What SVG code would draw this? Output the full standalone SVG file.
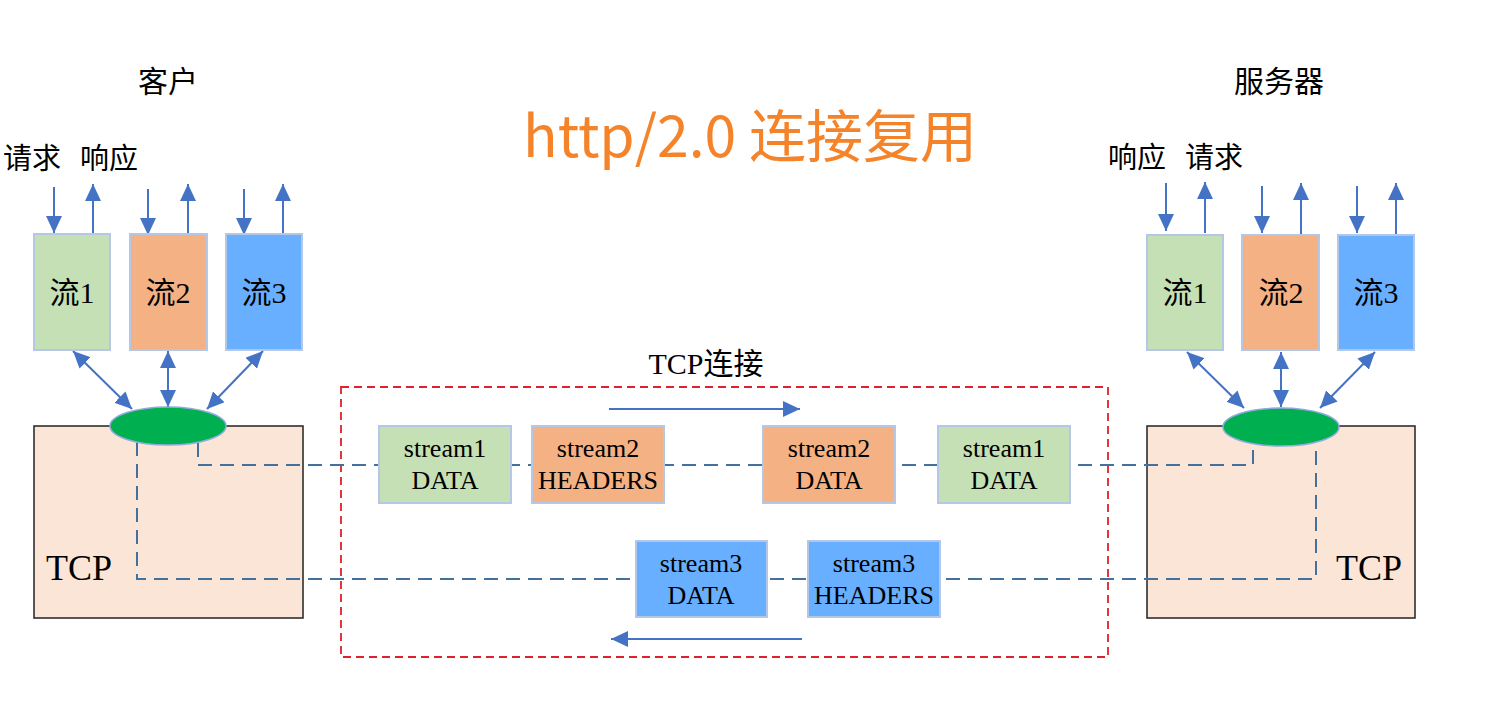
<svg xmlns="http://www.w3.org/2000/svg" width="1492" height="724" viewBox="0 0 1492 724">
<style>
.cjk{font-family:"Liberation Serif","Noto Sans CJK SC",serif;fill:#000}
.sans{font-family:"Noto Sans CJK SC","Noto Sans",sans-serif}
.tcp{fill:#FBE5D6;stroke:#222;stroke-width:1.5}
.ell{fill:#00B050;stroke:#8FAADC;stroke-width:1.5}
.g{fill:#C5E0B4}
.o{fill:#F4B183}
.b{fill:#69AFFF}
.box{stroke:#B4C7E7;stroke-width:2}
.arr{stroke:#4472C4;stroke-width:2;fill:none}
.dash{stroke:#41719C;stroke-width:2;fill:none;stroke-dasharray:14 8}
.st{font-family:"Liberation Serif",serif;font-size:26px;text-anchor:middle;fill:#000}
.fl{font-family:"Liberation Serif","Noto Sans CJK SC",serif;font-size:30px;text-anchor:middle;fill:#000}
</style>
<defs>
<marker id="ah" markerUnits="userSpaceOnUse" markerWidth="20" markerHeight="18" refX="17" refY="8" orient="auto-start-reverse">
<path d="M0,0 L17,8 L0,16 z" fill="#4472C4"/>
</marker>
</defs>
<rect width="1492" height="724" fill="#fff"/>

<text id="title" class="sans" x="750" y="157" font-size="57" text-anchor="middle" fill="#F5832A">http/2.0 连接复用</text>
<text id="client-label" class="sans" x="168" y="92" font-size="30" text-anchor="middle" fill="#000">客户</text>
<text id="server-label" class="sans" x="1279" y="92" font-size="30" text-anchor="middle" fill="#000">服务器</text>
<text class="cjk" x="3" y="169" font-size="29">请求</text>
<text class="cjk" x="80" y="169" font-size="29">响应</text>
<text class="cjk" x="1108" y="168" font-size="29">响应</text>
<text class="cjk" x="1185" y="168" font-size="29">请求</text>

<g id="client-tcp"><rect class="tcp" x="34" y="426" width="269" height="192"/><text x="46" y="580" font-family="Liberation Serif,serif" font-size="36">TCP</text></g>
<g id="server-tcp"><rect class="tcp" x="1147" y="426" width="268" height="192"/><text x="1336" y="580" font-family="Liberation Serif,serif" font-size="36">TCP</text></g>

<g id="tcp-connection">
<rect x="341" y="387" width="767" height="270" fill="none" stroke="#E0202A" stroke-width="1.8" stroke-dasharray="8 5"/>
<text class="cjk" x="706" y="374" font-size="30" text-anchor="middle">TCP连接</text>
</g>

<g id="connectors">
<path class="dash" d="M198,443 V465 H1253 V443"/>
<path class="dash" d="M137,442 V579 H1316 V443"/>
<line class="arr" x1="54" y1="187" x2="54" y2="233" marker-end="url(#ah)"/>
<line class="arr" x1="93" y1="235" x2="93" y2="184" marker-end="url(#ah)"/>
<line class="arr" x1="148" y1="189" x2="148" y2="235" marker-end="url(#ah)"/>
<line class="arr" x1="188" y1="238" x2="188" y2="184" marker-end="url(#ah)"/>
<line class="arr" x1="244" y1="189" x2="244" y2="235" marker-end="url(#ah)"/>
<line class="arr" x1="283" y1="237" x2="283" y2="184" marker-end="url(#ah)"/>
<line class="arr" x1="1166" y1="183" x2="1166" y2="231" marker-end="url(#ah)"/>
<line class="arr" x1="1205" y1="233" x2="1205" y2="182" marker-end="url(#ah)"/>
<line class="arr" x1="1262" y1="186" x2="1262" y2="233" marker-end="url(#ah)"/>
<line class="arr" x1="1301" y1="235" x2="1301" y2="183" marker-end="url(#ah)"/>
<line class="arr" x1="1357" y1="186" x2="1357" y2="233" marker-end="url(#ah)"/>
<line class="arr" x1="1396" y1="235" x2="1396" y2="183" marker-end="url(#ah)"/>
<line class="arr" x1="73" y1="351" x2="132" y2="409" marker-start="url(#ah)" marker-end="url(#ah)"/>
<line class="arr" x1="168" y1="351" x2="168" y2="407" marker-start="url(#ah)" marker-end="url(#ah)"/>
<line class="arr" x1="263" y1="351" x2="207" y2="409" marker-start="url(#ah)" marker-end="url(#ah)"/>
<line class="arr" x1="1187" y1="352" x2="1244" y2="408" marker-start="url(#ah)" marker-end="url(#ah)"/>
<line class="arr" x1="1281" y1="352" x2="1281" y2="407" marker-start="url(#ah)" marker-end="url(#ah)"/>
<line class="arr" x1="1375" y1="352" x2="1320" y2="408" marker-start="url(#ah)" marker-end="url(#ah)"/>
<line class="arr" stroke-width="2.5" x1="609" y1="409" x2="800" y2="409" marker-end="url(#ah)"/>
<line class="arr" stroke-width="2.5" x1="802" y1="639" x2="611" y2="639" marker-end="url(#ah)"/>
</g>

<g id="client-ellipse"><ellipse class="ell" cx="168" cy="426" rx="58" ry="19"/></g>
<g id="server-ellipse"><ellipse class="ell" cx="1281" cy="427" rx="58" ry="19"/></g>

<g id="c-flow1"><rect class="box g" x="34" y="234" width="76" height="116"/><text class="fl" x="72" y="303">流1</text></g>
<g id="c-flow2"><rect class="box o" x="130" y="234" width="77" height="116"/><text class="fl" x="168" y="303">流2</text></g>
<g id="c-flow3"><rect class="box b" x="226" y="234" width="76" height="116"/><text class="fl" x="264" y="303">流3</text></g>
<g id="s-flow1"><rect class="box g" x="1147" y="235" width="76" height="115"/><text class="fl" x="1185" y="303">流1</text></g>
<g id="s-flow2"><rect class="box o" x="1242" y="235" width="77" height="115"/><text class="fl" x="1281" y="303">流2</text></g>
<g id="s-flow3"><rect class="box b" x="1338" y="235" width="76" height="115"/><text class="fl" x="1376" y="303">流3</text></g>

<g id="f-s1-data-a"><rect class="box g" x="379" y="426" width="132" height="77"/><text class="st" x="445" y="457">stream1</text><text class="st" x="445" y="489">DATA</text></g>
<g id="f-s2-headers"><rect class="box o" x="532" y="426" width="132" height="77"/><text class="st" x="598" y="457">stream2</text><text class="st" x="598" y="489">HEADERS</text></g>
<g id="f-s2-data"><rect class="box o" x="763" y="426" width="132" height="77"/><text class="st" x="829" y="457">stream2</text><text class="st" x="829" y="489">DATA</text></g>
<g id="f-s1-data-b"><rect class="box g" x="938" y="426" width="132" height="77"/><text class="st" x="1004" y="457">stream1</text><text class="st" x="1004" y="489">DATA</text></g>
<g id="f-s3-data"><rect class="box b" x="636" y="541" width="131" height="76"/><text class="st" x="701" y="572">stream3</text><text class="st" x="701" y="604">DATA</text></g>
<g id="f-s3-headers"><rect class="box b" x="808" y="541" width="132" height="76"/><text class="st" x="874" y="572">stream3</text><text class="st" x="874" y="604">HEADERS</text></g>
</svg>
